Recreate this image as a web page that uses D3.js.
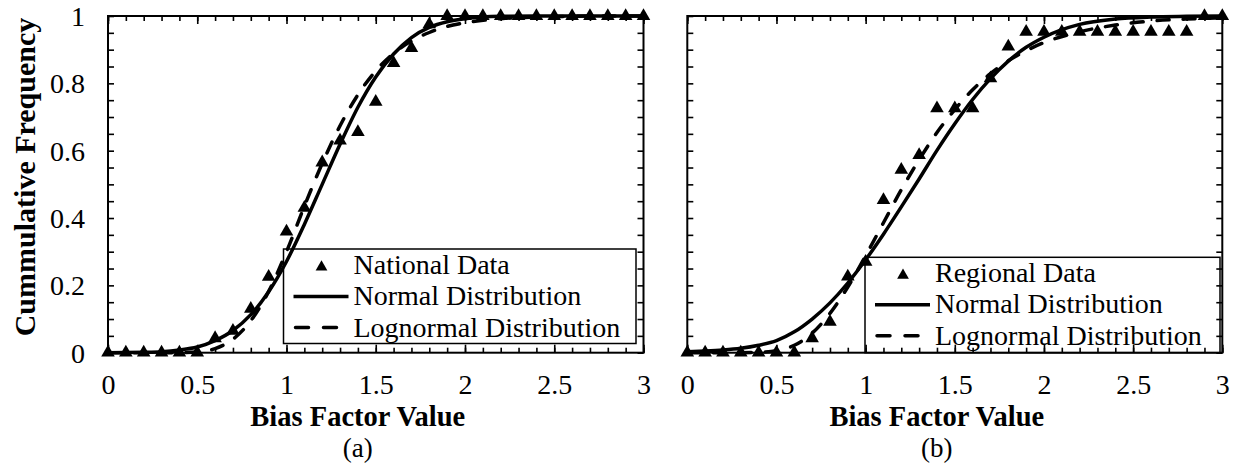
<!DOCTYPE html>
<html>
<head>
<meta charset="utf-8">
<script src="https://cdn.jsdelivr.net/npm/d3@7"></script>
<style>
  html, body { margin: 0; padding: 0; background: #fff; }
  svg { display: block; }
  text { font-family: "Liberation Serif", "Times New Roman", serif; fill: #000; }
</style>
</head>
<body>
<svg id="chart" width="1239" height="464"></svg>
<script>
// ---------------- data ----------------
const pointX = [0,0.1,0.2,0.3,0.4,0.5,0.6,0.7,0.8,0.9,1.0,1.1,1.2,1.3,1.4,1.5,1.6,1.7,1.8,1.9,2.0,2.1,2.2,2.3,2.4,2.5,2.6,2.7,2.8,2.9,3.0];
const nationalData = [0,0,0,0,0,0,0.043,0.065,0.13,0.225,0.36,0.43,0.565,0.63,0.655,0.745,0.86,0.905,0.975,1,1,1,1,1,1,1,1,1,1,1,1];
const regionalData = [0,0,0,0,0,0,0,0.043,0.092,0.226,0.27,0.453,0.543,0.587,0.726,0.726,0.726,0.815,0.909,0.953,0.953,0.953,0.953,0.953,0.953,0.953,0.953,0.953,0.953,1,1];

const curveX = [0,0.1,0.2,0.3,0.4,0.5,0.6,0.7,0.8,0.9,1.0,1.1,1.2,1.3,1.4,1.5,1.6,1.7,1.8,1.9,2.0,2.2,2.4,2.6,2.8,3.0];
const nationalNormal    = [0.0001,0.0004,0.0012,0.003,0.008,0.017,0.036,0.066,0.113,0.181,0.271,0.381,0.5,0.619,0.729,0.819,0.887,0.936,0.966,0.983,0.992,0.999,1,1,1,1];
const nationalLognormal = [0,0,0,0,0,0.002,0.012,0.04,0.095,0.182,0.30,0.435,0.562,0.674,0.766,0.837,0.889,0.926,0.951,0.969,0.98,0.992,0.997,0.999,1,1];
const regionalNormal    = [0.003,0.005,0.008,0.013,0.022,0.036,0.062,0.1,0.148,0.207,0.276,0.352,0.433,0.516,0.601,0.68,0.752,0.814,0.866,0.907,0.937,0.975,0.991,0.997,0.999,1];
const regionalLognormal = [0,0,0,0,0.001,0.006,0.022,0.058,0.117,0.195,0.288,0.386,0.484,0.573,0.654,0.722,0.781,0.829,0.867,0.897,0.921,0.953,0.973,0.985,0.991,0.995];

const xTickValues = [0,0.5,1,1.5,2,2.5,3];
const xTickLabels = ["0","0.5","1","1.5","2","2.5","3"];
const yTickValues = [0,0.2,0.4,0.6,0.8,1];
const yTickLabels = ["0","0.2","0.4","0.6","0.8","1"];
const xMinorTicks = d3.range(0, 31).map(i => i / 10);
const yMinorTicks = d3.range(0, 21).map(i => i / 20);

const panels = [
  { left: 108, right: 643.5, label: "(a)", dataName: "National Data", data: nationalData,
    normal: nationalNormal, lognormal: nationalLognormal, showY: true,
    legend: { x0: 283.5, x1: 636, y0: 249, y1: 343.5 } },
  { left: 687.3, right: 1222.3, label: "(b)", dataName: "Regional Data", data: regionalData,
    normal: regionalNormal, lognormal: regionalLognormal, showY: false,
    legend: { x0: 865, x1: 1220, y0: 257.3, y1: 352.7 } }
];

const TOP = 16, BOTTOM = 352.7;
const svg = d3.select("#chart");

// y title
svg.append("text")
  .attr("transform", `translate(35,177) rotate(-90)`)
  .attr("text-anchor", "middle")
  .style("font-size", "30px").style("font-weight", "bold")
  .text("Cummulative Frequency");

panels.forEach(p => {
  const x = d3.scaleLinear().domain([0, 3]).range([p.left, p.right]);
  const y = d3.scaleLinear().domain([0, 1]).range([BOTTOM, TOP]);
  const g = svg.append("g");

  // legend box (under data)
  const L = p.legend;
  g.append("rect").attr("x", L.x0).attr("y", L.y0)
    .attr("width", L.x1 - L.x0).attr("height", L.y1 - L.y0)
    .attr("fill", "#fff").attr("stroke", "#000").attr("stroke-width", 1.5);

  // ticks (inward)
  const tickAxes = [
    [d3.axisBottom(x).tickValues(xMinorTicks).tickSize(-5), `translate(0,${BOTTOM})`],
    [d3.axisBottom(x).tickValues(xTickValues).tickSize(-8), `translate(0,${BOTTOM})`],
    [d3.axisTop(x).tickValues(xMinorTicks).tickSize(-5), `translate(0,${TOP})`],
    [d3.axisTop(x).tickValues(xTickValues).tickSize(-8), `translate(0,${TOP})`],
    [d3.axisLeft(y).tickValues(yMinorTicks).tickSize(-6), `translate(${p.left},0)`],
    [d3.axisRight(y).tickValues(yMinorTicks).tickSize(-6), `translate(${p.right},0)`]
  ];
  tickAxes.forEach(([ax, tr]) => {
    const a = g.append("g").attr("transform", tr).call(ax.tickFormat(""));
    a.select(".domain").remove();
    a.selectAll("line").attr("stroke", "#000").attr("stroke-width", 1.6);
  });

  // frame
  g.append("rect").attr("x", p.left).attr("y", TOP)
    .attr("width", p.right - p.left).attr("height", BOTTOM - TOP)
    .attr("fill", "none").attr("stroke", "#000").attr("stroke-width", 2);

  // x tick labels
  const xl = g.append("g").attr("transform", `translate(0,${BOTTOM})`)
    .call(d3.axisBottom(x).tickValues(xTickValues).tickSize(0).tickPadding(0)
      .tickFormat((d, i) => xTickLabels[i]));
  xl.select(".domain").remove();
  xl.selectAll("text").attr("dy", null).attr("y", 41.5)
    .style("font-size", "28px").style("font-family", "Liberation Serif");

  if (p.showY) {
    const yl = g.append("g").attr("transform", `translate(${p.left},0)`)
      .call(d3.axisLeft(y).tickValues(yTickValues).tickSize(0).tickPadding(0)
        .tickFormat((d, i) => yTickLabels[i]));
    yl.select(".domain").remove();
    yl.selectAll("text").attr("x", -23).attr("dy", "0.34em")
      .style("font-size", "28px").style("font-family", "Liberation Serif");
  }

  // curves
  const line = d3.line().x((d, i) => x(curveX[i])).y(d => y(d)).curve(d3.curveMonotoneX);
  g.append("path").datum(p.normal).attr("d", line)
    .attr("fill", "none").attr("stroke", "#000").attr("stroke-width", 3.5);
  g.append("path").datum(p.lognormal).attr("d", line)
    .attr("fill", "none").attr("stroke", "#000").attr("stroke-width", 3.5)
    .attr("stroke-dasharray", "12,14").attr("stroke-linecap", "round");

  // points
  const tri = d3.symbol().type(d3.symbolTriangle).size(80);
  g.selectAll("path.pt").data(p.data).enter().append("path").attr("class", "pt")
    .attr("d", tri)
    .attr("transform", (d, i) => `translate(${x(pointX[i])},${y(d)})`)
    .attr("fill", "#000");

  // legend contents
  const lx = L.x0;
  const rows = [L.y0 + 25, L.y0 + 56, L.y0 + 87.5];
  g.append("path").attr("d", d3.symbol().type(d3.symbolTriangle).size(60))
    .attr("transform", `translate(${lx + 38},${rows[0] - 7})`).attr("fill", "#000");
  g.append("line").attr("x1", lx + 10).attr("x2", lx + 65)
    .attr("y1", rows[1] - 8.5).attr("y2", rows[1] - 8.5)
    .attr("stroke", "#000").attr("stroke-width", 3.5);
  g.append("line").attr("x1", lx + 12).attr("x2", lx + 57)
    .attr("y1", rows[2] - 9).attr("y2", rows[2] - 9)
    .attr("stroke", "#000").attr("stroke-width", 3.5)
    .attr("stroke-dasharray", "13,15").attr("stroke-linecap", "round");
  const names = [p.dataName, "Normal Distribution", "Lognormal Distribution"];
  names.forEach((t, i) => {
    g.append("text").attr("x", lx + 70).attr("y", rows[i])
      .style("font-size", "28px").text(t);
  });

  // x title and panel label (centred slightly left of the plot centre, as in the original)
  const cx = (p.left + p.right) / 2 - 18;
  g.append("text").attr("x", cx).attr("y", 426).attr("text-anchor", "middle")
    .style("font-size", "28.5px").style("font-weight", "bold").text("Bias Factor Value");
  g.append("text").attr("x", cx).attr("y", 457).attr("text-anchor", "middle")
    .style("font-size", "27px").text(p.label);
});
</script>
</body>
</html>
